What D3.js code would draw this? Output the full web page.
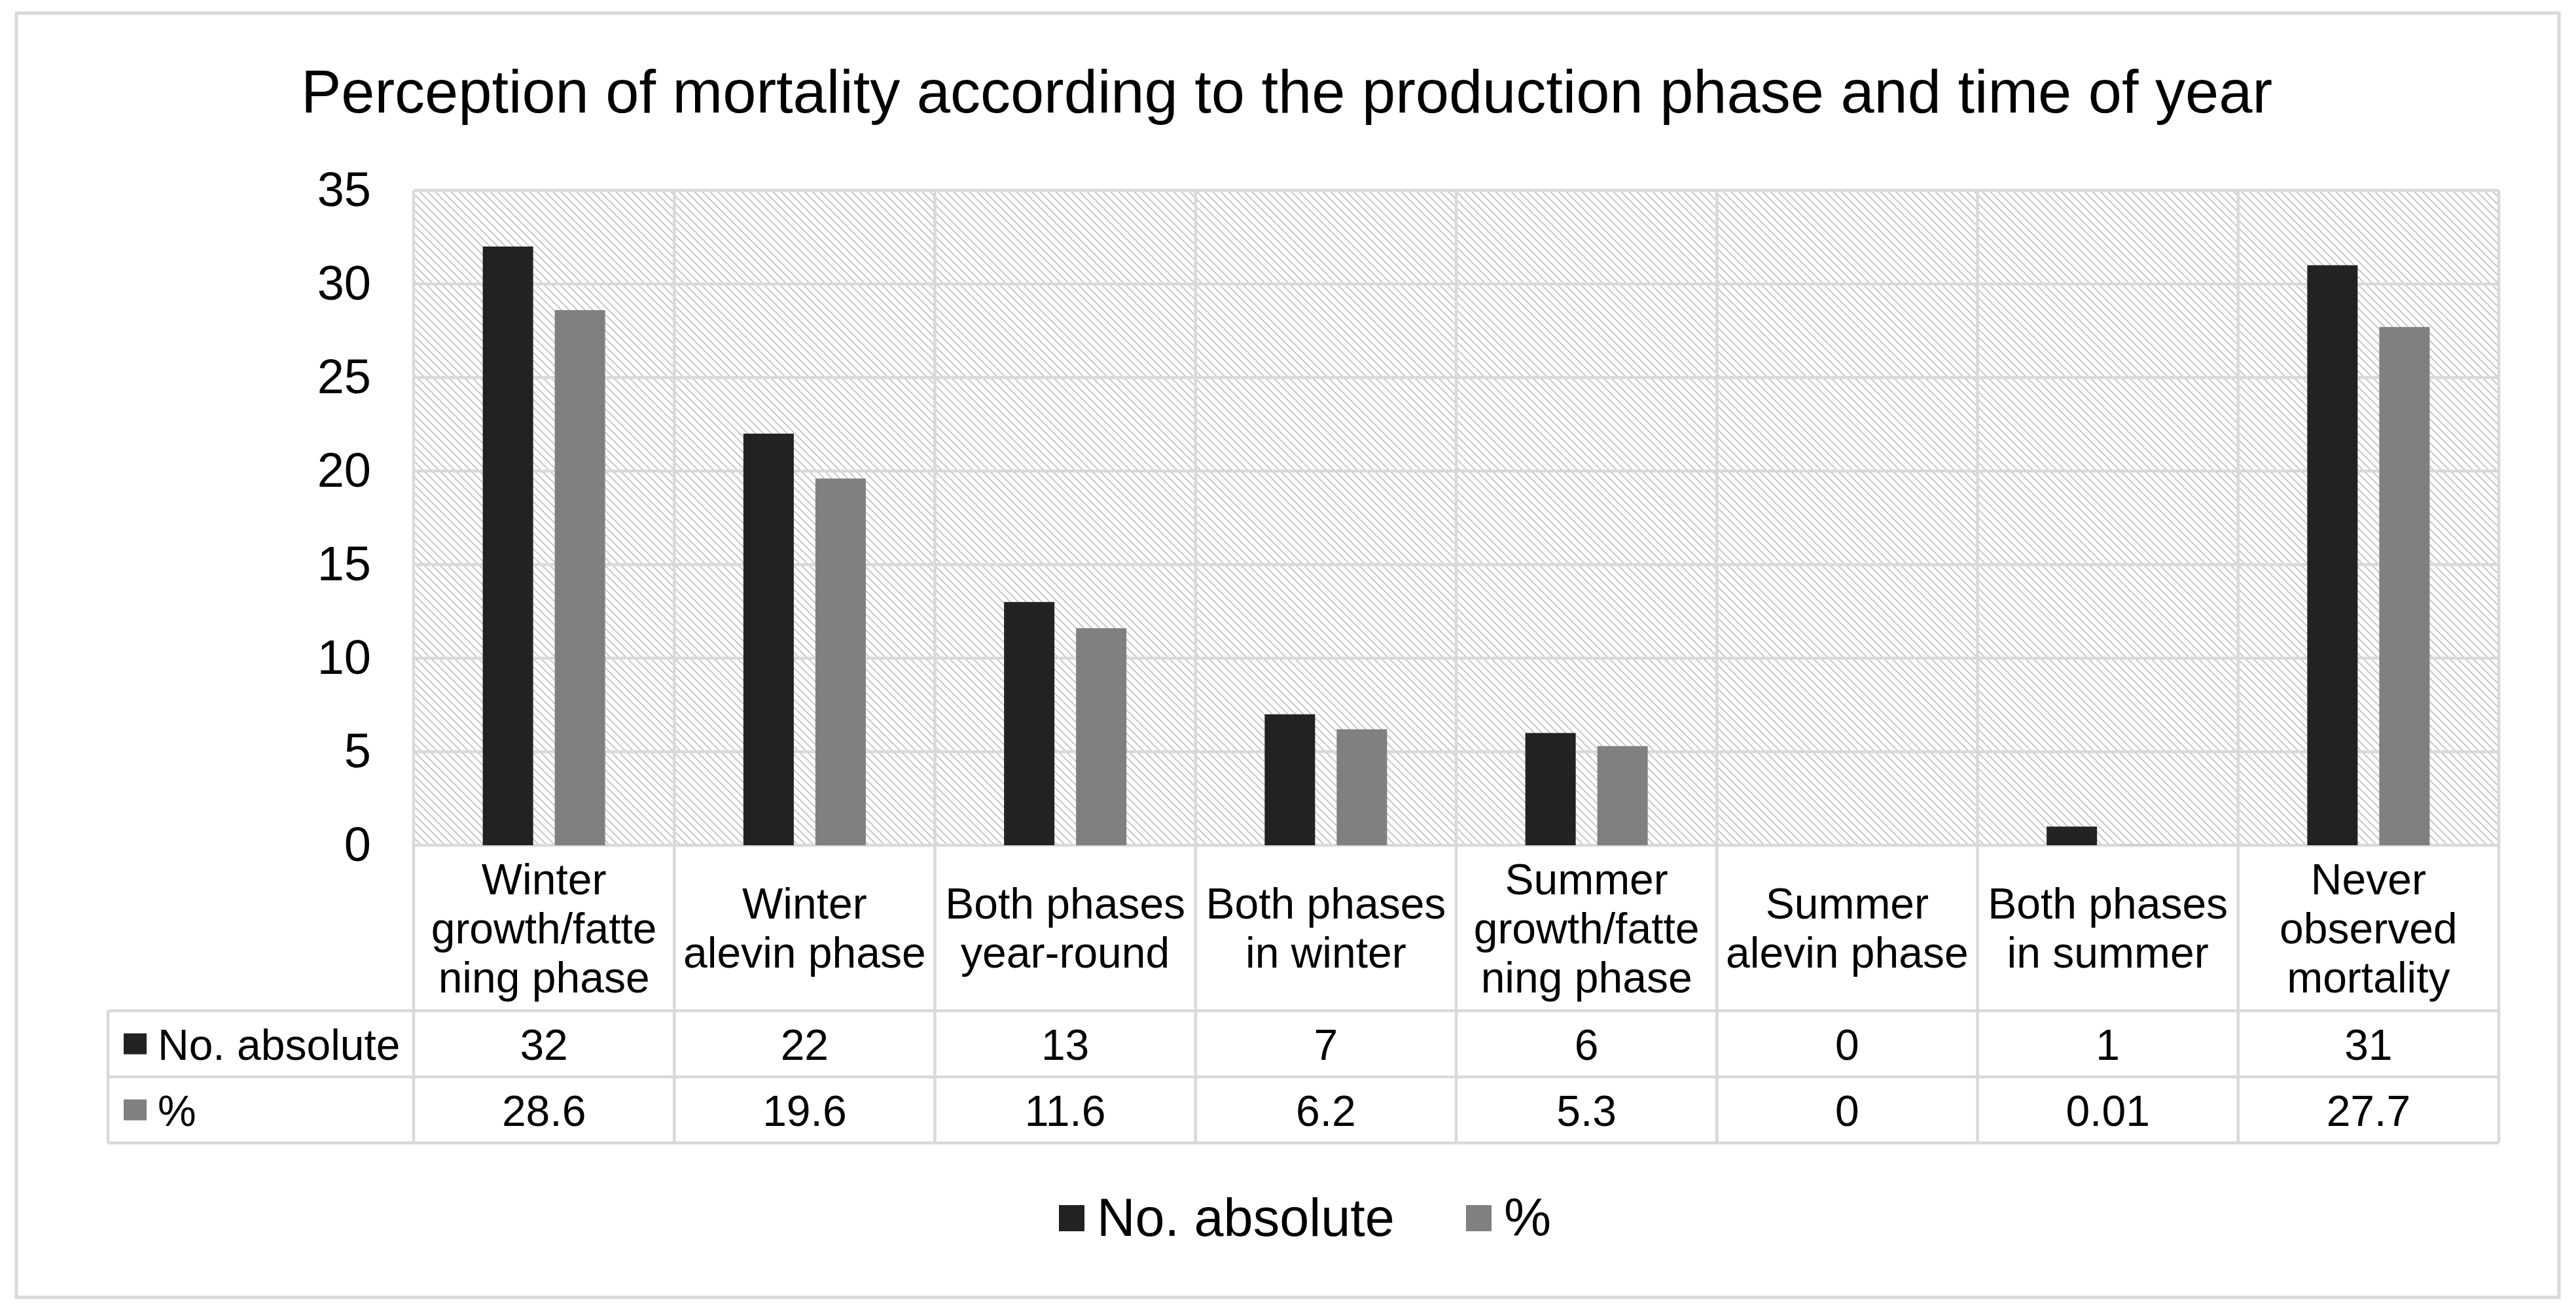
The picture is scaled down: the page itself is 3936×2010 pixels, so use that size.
<!DOCTYPE html>
<html>
<head>
<meta charset="utf-8">
<script src="https://cdn.jsdelivr.net/npm/d3@7"></script>
<style>
  body { margin: 0; background: #fff; }
  text { font-family: "Liberation Sans", Arial, sans-serif; fill: #000; }
</style>
</head>
<body>
<script>
// chart data
var categories = ["Winter growth/fattening phase", "Winter alevin phase", "Both phases year-round",
    "Both phases in winter", "Summer growth/fattening phase", "Summer alevin phase",
    "Both phases in summer", "Never observed mortality"];
var categoryLines = [["Winter", "growth/fatte", "ning phase"], ["Winter", "alevin phase"],
    ["Both phases", "year-round"], ["Both phases", "in winter"], ["Summer", "growth/fatte", "ning phase"],
    ["Summer", "alevin phase"], ["Both phases", "in summer"], ["Never", "observed", "mortality"]];
var absValues = [32, 22, 13, 7, 6, 0, 1, 31];
var pctValues = [28.6, 19.6, 11.6, 6.2, 5.3, 0, 0.01, 27.7];
var seriesNames = ["No. absolute", "%"];
var yTicks = [0, 5, 10, 15, 20, 25, 30, 35];

var width = 3936;
var height = 2010;
var plotLeft = 632, plotRight = 3818, plotTop = 291, plotBottom = 1292;
var tableTop = 1545, rowH = 101, tableLeft = 165;
var colors = ["#222222", "#808080"];
var gridColor = "#d9d9d9";

var series = [absValues, pctValues];

var svg = d3.select("body").append("svg")
    .attr("width", width)
    .attr("height", height);

// hatch pattern for plot background
var pat = svg.append("defs").append("pattern")
    .attr("id", "hatch")
    .attr("patternUnits", "userSpaceOnUse")
    .attr("width", 12)
    .attr("height", 12);
pat.append("rect").attr("width", 12).attr("height", 12).attr("fill", "#fff");
pat.append("path")
    .attr("d", "M-3,-3L15,15M-3,9L3,15M9,-3L15,3")
    .attr("stroke", "#c8c8c8")
    .attr("stroke-width", 2);

// outer frame
svg.append("rect")
    .attr("x", 25).attr("y", 20)
    .attr("width", 3885).attr("height", 1963)
    .attr("fill", "#fff")
    .attr("stroke", gridColor)
    .attr("stroke-width", 5);

// title
svg.append("text")
    .attr("x", 1966)
    .attr("y", 172)
    .attr("text-anchor", "middle")
    .style("font-size", "92px")
    .text("Perception of mortality according to the production phase and time of year");

var x = d3.scaleBand()
    .domain(categories)
    .range([plotLeft, plotRight]);

var x1 = d3.scaleBand()
    .domain(seriesNames)
    .range([0, x.bandwidth()])
    .paddingInner(0.3)
    .paddingOuter(0.96);

var y = d3.scaleLinear()
    .domain([0, 35])
    .range([plotBottom, plotTop]);

svg.append("rect")
    .attr("x", plotLeft).attr("y", plotTop)
    .attr("width", plotRight - plotLeft).attr("height", plotBottom - plotTop)
    .attr("fill", "url(#hatch)");

// horizontal gridlines
svg.append("g")
    .selectAll("line")
    .data(yTicks)
    .enter()
    .append("line")
    .attr("x1", plotLeft).attr("x2", plotRight)
    .attr("y1", function(d) { return y(d); })
    .attr("y2", function(d) { return y(d); })
    .attr("stroke", gridColor)
    .attr("stroke-width", 4.5);

// vertical lines through plot and table
var bounds = categories.map(function(c) { return x(c); }).concat([plotRight]);
svg.append("g")
    .selectAll("line")
    .data(bounds)
    .enter()
    .append("line")
    .attr("x1", function(d) { return d; })
    .attr("x2", function(d) { return d; })
    .attr("y1", plotTop)
    .attr("y2", tableTop + 2 * rowH)
    .attr("stroke", gridColor)
    .attr("stroke-width", 4.5);

// table lines
var rowLines = [tableTop, tableTop + rowH, tableTop + 2 * rowH];
svg.append("g")
    .selectAll("line")
    .data(rowLines)
    .enter()
    .append("line")
    .attr("x1", tableLeft).attr("x2", plotRight)
    .attr("y1", function(d) { return d; })
    .attr("y2", function(d) { return d; })
    .attr("stroke", gridColor)
    .attr("stroke-width", 4.5);

svg.append("line")
    .attr("x1", tableLeft).attr("x2", tableLeft)
    .attr("y1", tableTop).attr("y2", tableTop + 2 * rowH)
    .attr("stroke", gridColor)
    .attr("stroke-width", 4.5);

// y axis
var y_axis = d3.axisLeft(y)
    .tickValues(yTicks)
    .tickSize(0)
    .tickPadding(0);

var yg = svg.append("g")
    .attr("transform", "translate(567,0)")
    .call(y_axis);
yg.select(".domain").remove();
yg.selectAll("text")
    .style("font-size", "74px")
    .style("font-family", "'Liberation Sans', Arial, sans-serif")
    .attr("fill", "#000");

// bars
series.forEach(function(vals, si) {
    svg.append("g")
        .selectAll("rect")
        .data(vals)
        .enter()
        .append("rect")
        .attr("x", function(d, i) { return x(categories[i]) + x1(seriesNames[si]); })
        .attr("y", function(d) { return y(d); })
        .attr("width", x1.bandwidth())
        .attr("height", function(d) { return y(0) - y(d); })
        .attr("fill", colors[si]);
});

// category labels
var lineH = 75;
var catMid = (plotBottom + tableTop) / 2;
categoryLines.forEach(function(lines, i) {
    var t = svg.append("text")
        .attr("text-anchor", "middle")
        .style("font-size", "66px");
    lines.forEach(function(l, j) {
        t.append("tspan")
            .attr("x", x(categories[i]) + x.bandwidth() / 2)
            .attr("y", catMid + (j - (lines.length - 1) / 2) * lineH + 23)
            .text(l);
    });
});

// table rows
series.forEach(function(vals, si) {
    var cy = tableTop + rowH * si + rowH / 2;
    svg.append("rect")
        .attr("x", 189).attr("y", cy - 16)
        .attr("width", 35).attr("height", 32)
        .attr("fill", colors[si]);
    svg.append("text")
        .attr("x", 241).attr("y", cy + 24)
        .style("font-size", "66px")
        .text(seriesNames[si]);
    svg.append("g")
        .selectAll("text")
        .data(vals)
        .enter()
        .append("text")
        .attr("x", function(d, i) { return x(categories[i]) + x.bandwidth() / 2; })
        .attr("y", cy + 24)
        .attr("text-anchor", "middle")
        .style("font-size", "66px")
        .text(function(d) { return String(d); });
});

// legend
var legendX = [1618, 2240];
seriesNames.forEach(function(name, si) {
    svg.append("rect")
        .attr("x", legendX[si]).attr("y", 1842)
        .attr("width", 39).attr("height", 40)
        .attr("fill", colors[si]);
    svg.append("text")
        .attr("x", legendX[si] + 58).attr("y", 1889)
        .style("font-size", "81px")
        .text(name);
});
</script>
</body>
</html>
